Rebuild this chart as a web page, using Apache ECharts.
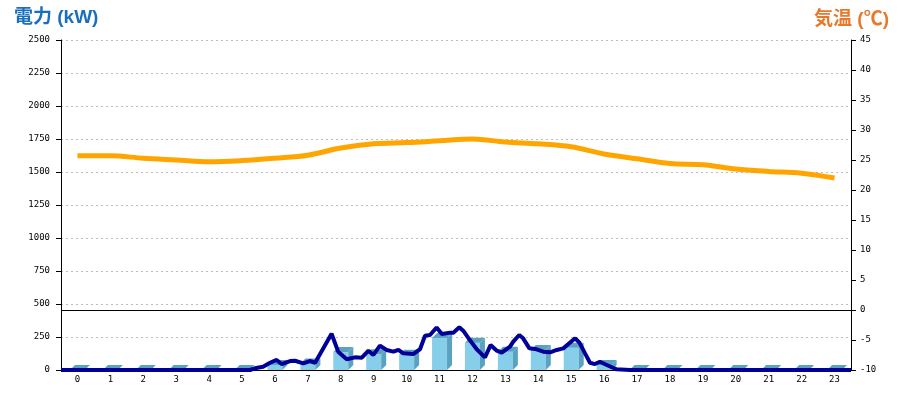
<!DOCTYPE html>
<html>
<head>
<meta charset="utf-8">
<script src="https://cdn.jsdelivr.net/npm/echarts@6/dist/echarts.min.js"></script>
<style>html,body{margin:0;padding:0;background:#fff}#c{width:900px;height:400px}</style>
</head>
<body>
<div id="c"></div>
<script>
// ---- data ----
var hours = ['0','1','2','3','4','5','6','7','8','9','10','11','12','13','14','15','16','17','18','19','20','21','22','23'];
var hourlyPower = [0,0,0,0,0,0,38,50,136,119,116,242,207,139,152,169,38,0,0,0,0,0,0,0];
var temperature = [25.7,25.7,25.3,25.0,24.7,24.9,25.3,25.8,27.0,27.7,27.9,28.2,28.5,28.0,27.7,27.2,26.0,25.2,24.4,24.2,23.5,23.1,22.8,22.0];
var lineTimes = [0,5.74,5.89,6.14,6.35,6.55,6.70,6.96,7.11,7.36,7.56,7.72,8.22,8.42,8.68,8.93,9.14,9.34,9.49,9.69,9.89,10.10,10.25,10.40,10.70,10.91,11.06,11.21,11.41,11.57,11.82,11.92,12.10,12.22,12.42,12.63,12.88,13.05,13.24,13.39,13.64,13.74,13.92,14.04,14.23,14.45,14.65,14.86,15.06,15.26,15.44,15.62,15.75,15.92,16.07,16.22,16.37,16.58,16.88,17.29,24];
var lineKW = [0,0,13,25,55,76,45,68,70,50,68,55,275,139,81,96,93,146,114,184,152,139,152,126,121,159,260,265,322,273,283,283,323,298,227,157,96,189,146,131,177,215,265,240,164,157,139,134,152,164,202,240,207,126,55,45,63,38,5,0,0];
var powerTicks = [0,250,500,750,1000,1250,1500,1750,2000,2250,2500];
var tempTicks = [-10,-5,0,5,10,15,20,25,30,35,40,45];

var linePoints = lineTimes.map(function(t,i){return [t, lineKW[i]];});
var barData = hourlyPower.map(function(v,i){return [i, v];});

var chart = echarts.init(document.getElementById('c'));
var labelFont = {fontFamily:'DejaVu Sans Mono', fontSize:9, color:'#000'};

chart.setOption({
  animation:false,
  title:[
    {text:'電力 (kW)', left:9, top:3, textStyle:{fontFamily:'Liberation Sans, Noto Sans CJK JP', fontWeight:'bold', fontSize:19, color:'#1a6fbd'}},
    {text:'気温 (℃)', right:6, top:5, textStyle:{fontFamily:'Liberation Sans, Noto Sans CJK JP', fontWeight:'bold', fontSize:19, color:'#e8782a'}}
  ],
  grid:{left:61, right:49, top:40, bottom:30},
  xAxis:[
    {type:'category', data:hours, boundaryGap:true,
     axisLine:{lineStyle:{color:'#000', width:1}}, axisTick:{show:false},
     axisLabel:Object.assign({margin:5, interval:0}, labelFont), splitLine:{show:false}},
    {type:'value', min:0, max:24, show:false}
  ],
  yAxis:[
    {type:'value', min:0, max:2500, interval:250, position:'left',
     axisLine:{show:true, lineStyle:{color:'#000'}}, axisTick:{show:true, length:5, lineStyle:{color:'#000'}},
     axisLabel:Object.assign({margin:11, formatter:function(v){return String(v);}}, labelFont),
     splitLine:{show:true, lineStyle:{color:'#bdbdbd', type:[2,3], width:1}}},
    {type:'value', min:-10, max:45, interval:5, position:'right',
     axisLine:{show:true, lineStyle:{color:'#000'}}, axisTick:{show:true, length:5, lineStyle:{color:'#000'}},
     axisLabel:Object.assign({margin:9, formatter:function(v){return String(v);}}, labelFont),
     splitLine:{show:false}}
  ],
  series:[
    {type:'custom', xAxisIndex:0, yAxisIndex:0, data:barData, z:2,
     renderItem:function(params, api){
       var idx = api.value(0), v = api.value(1);
       var base = api.coord([idx, 0]);
       var top = api.coord([idx, v]);
       var hw = 7.5, dx = 5, dy = 5;
       var cx = base[0];
       var l = cx - hw, r = cx + hw, t = top[1], b = base[1];
       var children = [];
       if (b - t > 0.5) {
         children.push({type:'rect', shape:{x:l, y:t, width:r-l, height:b-t}, style:{fill:'#87ceeb'}});
         children.push({type:'polygon', shape:{points:[[r,t],[r+dx,t-dy],[r+dx,b-dy],[r,b]]}, style:{fill:'#5aa2c0'}});
       }
       children.push({type:'polygon', shape:{points:[[l,t],[l+dx,t-dy],[r+dx,t-dy],[r,t]]}, style:{fill:'#5aa2c0'}});
       return {type:'group', children:children};
     }},
    {type:'line', xAxisIndex:1, yAxisIndex:0, data:linePoints, symbol:'none', z:3,
     lineStyle:{color:'#000099', width:4}},
    {type:'line', xAxisIndex:0, yAxisIndex:1, data:temperature, symbol:'none', smooth:0.35, z:4,
     lineStyle:{color:'#ffa500', width:5},
     markLine:{silent:true, symbol:'none', label:{show:false}, lineStyle:{color:'#000', type:'solid', width:1},
       data:[{yAxis:0}]}}
  ]
});
</script>
</body>
</html>
